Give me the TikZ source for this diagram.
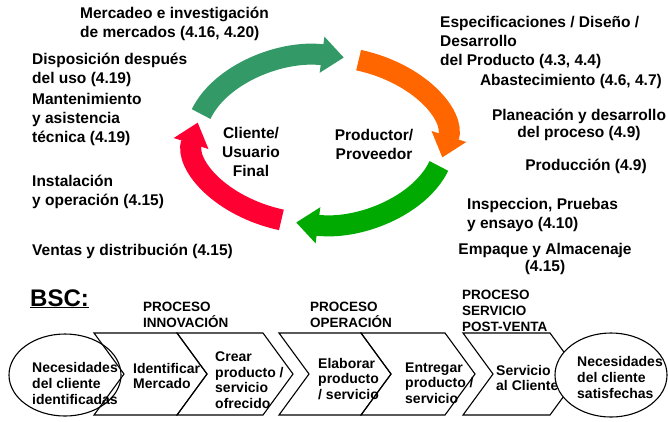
\documentclass[tikz,border=0pt]{standalone}
\usepackage{fontspec}
\setmainfont{Liberation Sans}
\usetikzlibrary{arrows.meta,calc}

\definecolor{verdeMar}{HTML}{339966}
\definecolor{naranja}{HTML}{FF6600}
\definecolor{verdeVivo}{HTML}{00AA00}
\definecolor{rojo}{HTML}{FF0033}

\tikzset{
    texto/.style={font=\bfseries\fontsize{15.5}{19}\selectfont, inner sep=0pt, align=left},
    cabeza/.style={font=\bfseries\fontsize{13.5}{16}\selectfont, inner sep=0pt, align=left, anchor=west},
    paso/.style={font=\bfseries\fontsize{14}{15.5}\selectfont, inner sep=0pt, align=left, anchor=west},
    flecha/.style={line width=21pt, -{Triangle[width=35pt,length=22pt]}},
    chevron/.style={draw=black, line width=1.1pt, line join=miter},
}

\begin{document}
\begin{tikzpicture}[x=1pt, y=-1pt]
        \useasboundingbox (0,0) rectangle (668,421);
        % 椭圆环的中心与半径 (125 x 84)
        \coordinate (ctr) at (320,140);
        % 四段弧形箭头(顺时针)
        \draw[flecha, verdeMar]  ($(ctr)+(198:125 and 84)$) arc[start angle=198, end angle=281, x radius=125, y radius=84];
        \draw[flecha, naranja]   ($(ctr)+(288:125 and 84)$) arc[start angle=288, end angle=372, x radius=125, y radius=84];
        \draw[flecha, verdeVivo] ($(ctr)+(18:125 and 84)$)  arc[start angle=18,  end angle=101, x radius=125, y radius=84];
        \draw[flecha, rojo]      ($(ctr)+(108:125 and 84)$) arc[start angle=108, end angle=192, x radius=125, y radius=84];

        % 环内文字
        \node[texto, align=center] (cliente) at (251,152) {Cliente/\\Usuario\\Final};
        \node[texto, align=center] (productor) at (374,144) {Productor/\\Proveedor};

        % 左侧标注
        \node[texto, anchor=west] (mercadeo) at (80,24) {Mercadeo e investigación\\de mercados (4.16, 4.20)};
        \node[texto, anchor=west] (disposicion) at (32,70) {Disposición después\\del uso (4.19)};
        \node[texto, anchor=west] (mantenimiento) at (32,119) {Mantenimiento\\y asistencia\\técnica (4.19)};
        \node[texto, anchor=west] (instalacion) at (32,192) {Instalación\\y operación (4.15)};
        \node[texto, anchor=base west] (ventas) at (32,255) {Ventas y distribución (4.15)};

        % 右侧标注
        \node[texto, anchor=west] (especificaciones) at (440,42) {Especificaciones / Diseño /\\Desarrollo\\del Producto (4.3, 4.4)};
        \node[texto, anchor=base east] (abastecimiento) at (662,85) {Abastecimiento (4.6, 4.7)};
        \node[texto, align=center, font=\bfseries\fontsize{15.5}{17}\selectfont] (planeacion) at (579,125) {Planeación y desarrollo\\del proceso (4.9)};
        \node[texto, anchor=base] (produccion) at (586,170) {Producción (4.9)};
        \node[texto, anchor=west] (inspeccion) at (467,215) {Inspeccion, Pruebas\\y ensayo (4.10)};
        \node[texto, align=center, font=\bfseries\fontsize{15.5}{17}\selectfont] (empaque) at (545,259) {Empaque y Almacenaje\\(4.15)};

        % BSC 与流程标题
        \node[font=\bfseries\fontsize{24}{27}\selectfont, inner sep=0pt, anchor=base west] (bsc) at (30,306) {\underline{BSC:}};
        \node[cabeza] (innovacion) at (143,315) {PROCESO\\INNOVACIÓN};
        \node[cabeza] (operacion) at (310,315) {PROCESO\\OPERACIÓN};
        \node[cabeza] (postventa) at (462,311) {PROCESO\\SERVICIO\\POST-VENTA};

        % 左椭圆(不填充)
        \draw[line width=1.1pt] (65,375) ellipse [x radius=56, y radius=41];
        \node[paso, font=\bfseries\fontsize{14}{16}\selectfont] (necesidades) at (32,383) {Necesidades\\del cliente\\identificadas};

        % 箭头形流程块
        \foreach \xa/\w in {94/83, 177/86, 279/82, 361/84, 463/87}
            \draw[chevron] (\xa,333) -- ++(\w,0) -- ++(30,41) -- ++(-30,41) -- ++(-\w,0) -- ++(30,-41) -- cycle;
        \node[paso] (identificar) at (133,376) {Identificar\\Mercado};
        \node[paso] (crear) at (215,380) {Crear\\producto /\\servicio\\ofrecido};
        \node[paso] (elaborar) at (318,379) {Elaborar\\producto\\/ servicio};
        \node[paso] (entregar) at (405,383) {Entregar\\producto /\\servicio};
        \node[paso] (servicio) at (496,378) {Servicio\\al Cliente};

        % 右椭圆(白色填充,盖住箭头尖)
        \draw[line width=1.1pt, fill=white] (611,375) ellipse [x radius=56, y radius=42];
        \node[paso, font=\bfseries\fontsize{14}{16}\selectfont] (satisfechas) at (577,377) {Necesidades\\del cliente\\satisfechas};
\end{tikzpicture}
\end{document}
